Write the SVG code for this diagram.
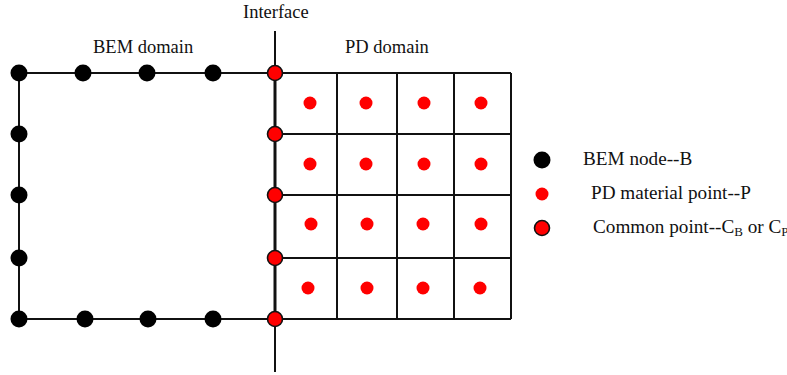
<svg xmlns="http://www.w3.org/2000/svg" width="787" height="375" viewBox="0 0 787 375">
<style>
.t{font-family:"Liberation Serif","Times New Roman",serif;font-size:18.5px;fill:#111}
.lg{font-size:19.2px}
.ln{stroke:#111;stroke-width:2;fill:none}
.b{fill:#000}
.p{fill:#f00}
.c{fill:#f00;stroke:#111;stroke-width:1.6}
</style>
<rect width="787" height="375" fill="#fff"/>
<g id="connectors">
<path class="ln" d="M19 73H511M19 319H511M19 73V319"/>
<path class="ln" d="M275 31V372"/>
<path class="ln" d="M275 73V319" style="stroke-width:3"/>
<path class="ln" d="M275 134H511M275 195H511M275 258H511M511 73V319M337 73V319M397 73V319M454 73V319"/>
</g>
<g id="bem-nodes">
<circle class="b" cx="19" cy="73" r="8.5"/>
<circle class="b" cx="83" cy="73" r="8.5"/>
<circle class="b" cx="147" cy="73" r="8.5"/>
<circle class="b" cx="213" cy="73" r="8.5"/>
<circle class="b" cx="19" cy="134" r="8.5"/>
<circle class="b" cx="19" cy="195" r="8.5"/>
<circle class="b" cx="19" cy="258" r="8.5"/>
<circle class="b" cx="19" cy="319" r="8.5"/>
<circle class="b" cx="85" cy="319" r="8.5"/>
<circle class="b" cx="148" cy="319" r="8.5"/>
<circle class="b" cx="213" cy="319" r="8.5"/>
</g>
<g id="common-points">
<circle class="c" cx="275" cy="73" r="7.5"/>
<circle class="c" cx="275" cy="134" r="7.5"/>
<circle class="c" cx="275" cy="195" r="7.5"/>
<circle class="c" cx="275" cy="258" r="7.5"/>
<circle class="c" cx="275" cy="319" r="7.5"/>
</g>
<g id="pd-points">
<circle class="p" cx="310" cy="103" r="6.5"/>
<circle class="p" cx="366" cy="103" r="6.5"/>
<circle class="p" cx="424" cy="103" r="6.5"/>
<circle class="p" cx="481" cy="103" r="6.5"/>
<circle class="p" cx="310" cy="164" r="6.5"/>
<circle class="p" cx="366" cy="164" r="6.5"/>
<circle class="p" cx="424" cy="164" r="6.5"/>
<circle class="p" cx="481" cy="164" r="6.5"/>
<circle class="p" cx="311" cy="224" r="6.5"/>
<circle class="p" cx="367" cy="224" r="6.5"/>
<circle class="p" cx="423" cy="224" r="6.5"/>
<circle class="p" cx="481" cy="224" r="6.5"/>
<circle class="p" cx="308" cy="288" r="6.5"/>
<circle class="p" cx="367" cy="288" r="6.5"/>
<circle class="p" cx="423" cy="288" r="6.5"/>
<circle class="p" cx="480" cy="288" r="6.5"/>
</g>
<g id="labels">
<text class="t" x="243" y="18">Interface</text>
<text class="t" x="93" y="53">BEM domain</text>
<text class="t" x="345" y="53">PD domain</text>
</g>
<g id="legend">
<circle class="b" cx="542" cy="160" r="8.5"/>
<text class="t lg" x="583" y="165">BEM node--B</text>
<circle class="p" cx="542" cy="194" r="6.5"/>
<text class="t lg" x="591" y="199">PD material point--P</text>
<circle class="c" cx="542" cy="228" r="7.5"/>
<text class="t lg" x="593" y="233">Common point--C<tspan font-size="13" dy="3">B</tspan><tspan dy="-3"> or C</tspan><tspan font-size="13" dy="3">P</tspan></text>
</g>
</svg>
